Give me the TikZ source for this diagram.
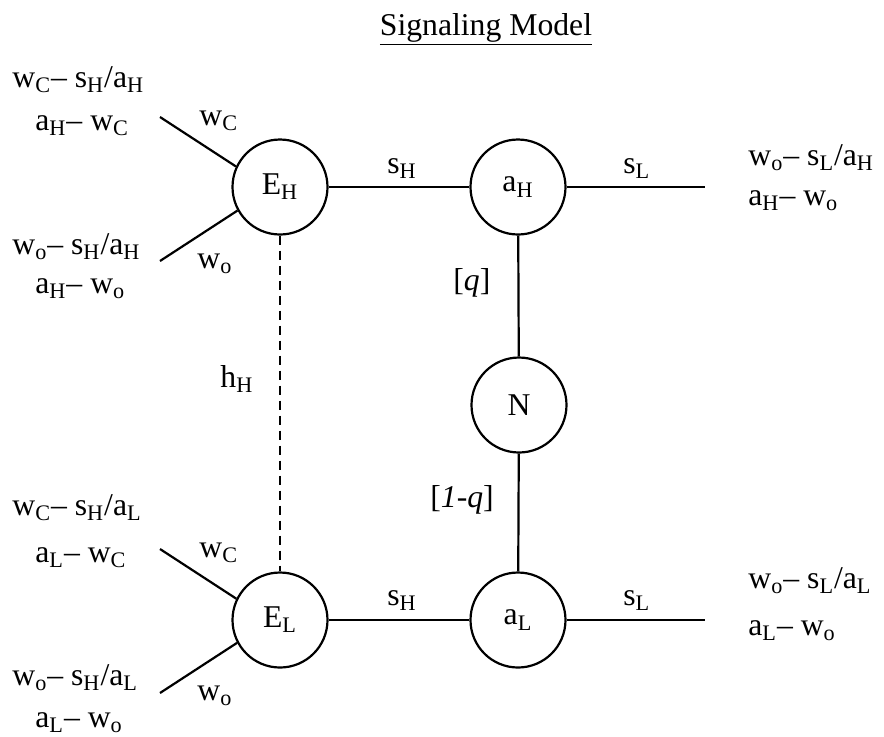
\documentclass[tikz,border=0pt]{standalone}
\usepackage{fontspec}
\setmainfont{Liberation Serif}
\usetikzlibrary{positioning}
\newcommand{\sbs}[1]{\textsubscript{#1}}

\begin{document}
\begin{tikzpicture}[
  x=0.5pt,y=-0.5pt,
  every node/.style={inner sep=0pt,font=\fontsize{15.85}{19}\selectfont},
  player/.style={circle,draw,line width=1.1pt,minimum size=47.5pt},
  link/.style={line width=1.1pt},
  txt/.style={anchor=base west}
]
  \useasboundingbox (0,0) rectangle (884,736);
  \node[anchor=base] (title) at (486,35) {\underline{Signaling Model}};
  % players and nature
  \node[player] (EH) at (280,187) {E\sbs{H}};
  \node[player] (aH) at (518,187) {a\sbs{H}};
  \node[player] (N) at (519,405) {N};
  \node[player] (EL) at (280,620) {E\sbs{L}};
  \node[player] (aL) at (518,620) {a\sbs{L}};
  % loose ends
  \coordinate (tHC) at (160,117);
  \coordinate (tHo) at (160,261);
  \coordinate (tLC) at (160,549);
  \coordinate (tLo) at (160,693);
  \coordinate (tHs) at (705,187);
  \coordinate (tLs) at (705,620);
  \draw[link] (EH.155) -- (tHC) (EH.209) -- (tHo) (EL.154) -- (tLC) (EL.208) -- (tLo);
  \draw[link] (EH) -- (aH) (aH) -- (tHs) (EL) -- (aL) (aL) -- (tLs);
  \draw[link] (aH) -- (N) (N) -- (aL);
  \draw[link,dash pattern=on 4.5pt off 3pt] (EH) -- (EL);
  % branch labels
  \node[txt] (lHC) at (199,125) {w\sbs{C}};
  \node[txt] (lHo) at (197,268) {w\sbs{o}};
  \node[txt] (lLC) at (199,557) {w\sbs{C}};
  \node[txt] (lLo) at (197,700) {w\sbs{o}};
  \node[txt] (lHsH) at (387,173) {s\sbs{H}};
  \node[txt] (lHsL) at (623,173) {s\sbs{L}};
  \node[txt] (lLsH) at (387,605) {s\sbs{H}};
  \node[txt] (lLsL) at (623,605) {s\sbs{L}};
  \node[txt] (hH) at (220,387) {h\sbs{H}};
  \node[txt] (pq) at (453,290) {[\textit{q}]};
  \node[txt] (p1q) at (430,507) {[\textit{1-q}]};
  % payoffs
  \node[txt] (uHC1) at (12,87) {w\sbs{C}– s\sbs{H}/a\sbs{H}};
  \node[txt] (uHC2) at (35,130) {a\sbs{H}– w\sbs{C}};
  \node[txt] (uHo1) at (12,254) {w\sbs{o}– s\sbs{H}/a\sbs{H}};
  \node[txt] (uHo2) at (35,293) {a\sbs{H}– w\sbs{o}};
  \node[txt] (uLC1) at (12,515) {w\sbs{C}– s\sbs{H}/a\sbs{L}};
  \node[txt] (uLC2) at (35,562) {a\sbs{L}– w\sbs{C}};
  \node[txt] (uLo1) at (12,685) {w\sbs{o}– s\sbs{H}/a\sbs{L}};
  \node[txt] (uLo2) at (35,727) {a\sbs{L}– w\sbs{o}};
  \node[txt] (uHs1) at (748,165) {w\sbs{o}– s\sbs{L}/a\sbs{H}};
  \node[txt] (uHs2) at (748,205) {a\sbs{H}– w\sbs{o}};
  \node[txt] (uLs1) at (748,588) {w\sbs{o}– s\sbs{L}/a\sbs{L}};
  \node[txt] (uLs2) at (748,635) {a\sbs{L}– w\sbs{o}};
\end{tikzpicture}
\end{document}
